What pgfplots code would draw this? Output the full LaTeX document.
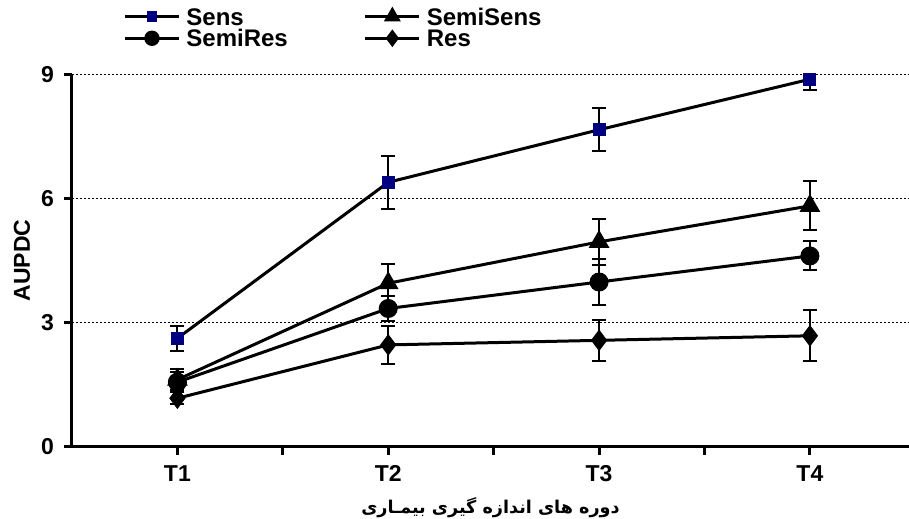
\documentclass[border=0pt]{standalone}
\usepackage{fontspec}
\setmainfont{Liberation Sans}
\newfontfamily\arabicfont[Script=Arabic]{DejaVu Sans}
\usepackage{pgfplots}
\pgfplotsset{compat=1.18}
\TeXXeTstate=1
\definecolor{sensblue}{RGB}{0,0,128}

\begin{document}
\begin{tikzpicture}
\begin{axis}[
    name=ax,
    scale only axis, width=418.5pt, height=186.2pt,
    xmin=0.5, xmax=4.47, ymin=0, ymax=9,
    axis x line*=bottom, axis y line*=left,
    axis line style={line width=1.5pt},
    xtick={1,2,3,4}, xticklabels={T1,T2,T3,T4},
    minor xtick={1.5,2.5,3.5},
    ytick={0,3,6,9},
    xtick pos=bottom, ytick pos=left,
    tick align=outside,
    major tick length=4pt, minor tick length=4pt,
    tick style={line width=1.5pt, black},
    ymajorgrids, grid style={line width=0.4pt, black, dash pattern=on 1pt off 1pt},
    /pgf/number format/assume math mode=true,
    ticklabel style={font=\fontsize{11.5}{13}\selectfont\bfseries},
    xticklabel style={yshift=-2pt},
    yticklabel style={xshift=-1.5pt},
    ylabel={\fontsize{11.5}{13}\selectfont\bfseries AUPDC},
    ylabel style={at={(axis description cs:-0.0597,0.5)}, anchor=center},
    xlabel={\arabicfont\fontsize{8.8}{10}\selectfont\bfseries\beginR دوره های اندازه  گیری بیمـاری\endR},
    xlabel style={at={(axis description cs:0.5,-0.163)}, anchor=center},
    error bars/y dir=both, error bars/y explicit,
    error bars/error bar style={line width=1pt, black},
    error bars/error mark options={rotate=90, mark size=3.5pt, line width=1pt, black},
    legend columns=2,
    legend cell align=left,
    legend style={draw=none, fill=none, inner sep=0pt,
        at={(0.061,1.18)}, anchor=north west,
        font=\fontsize{12}{13}\selectfont\bfseries,
        nodes={inner sep=0pt, text height=8.6pt, text depth=0pt},
        /tikz/every odd column/.append style={column sep=3pt},
        /tikz/every even column/.append style={column sep=38pt},
        row sep=2.3pt},
    legend image code/.code={\draw[#1, mark=none] (0pt,0pt) -- (27pt,0pt);
        \draw[#1, every mark/.append style={scale=0.8}] plot coordinates {(13.5pt,0pt)};},
  ]
\addplot[black, line width=1.5pt, mark=square*, mark size=3pt, mark options={fill=sensblue, draw=sensblue, line width=0.5pt}]
  coordinates {(1,2.62) +- (0,0.30) (2,6.39) +- (0,0.64) (3,7.66) +- (0,0.52) (4,8.88) +- (0,0.27)};
\addplot[black, line width=1.5pt, mark=triangle*, mark size=5.5pt, mark options={fill=black, line width=0.5pt}]
  coordinates {(1,1.62) +- (0,0.25) (2,3.95) +- (0,0.47) (3,4.95) +- (0,0.55) (4,5.82) +- (0,0.59)};
\addplot[black, line width=1.5pt, mark=*, mark size=4.5pt, mark options={fill=black, line width=0.5pt}]
  coordinates {(1,1.56) +- (0,0.25) (2,3.34) +- (0,0.30) (3,3.98) +- (0,0.56) (4,4.61) +- (0,0.35)};
\addplot[black, line width=1.5pt, mark=diamond*, mark size=5pt, mark options={fill=black, line width=0.5pt}]
  coordinates {(1,1.17) +- (0,0.15) (2,2.46) +- (0,0.45) (3,2.57) +- (0,0.50) (4,2.68) +- (0,0.62)};
\legend{Sens, SemiSens, SemiRes, Res}
\end{axis}
\pgfresetboundingbox
\path[use as bounding box] ([shift={(-36pt,-36.15pt)}]ax.south west) rectangle ([shift={(0pt,37.15pt)}]ax.north east);
\end{tikzpicture}
\end{document}
